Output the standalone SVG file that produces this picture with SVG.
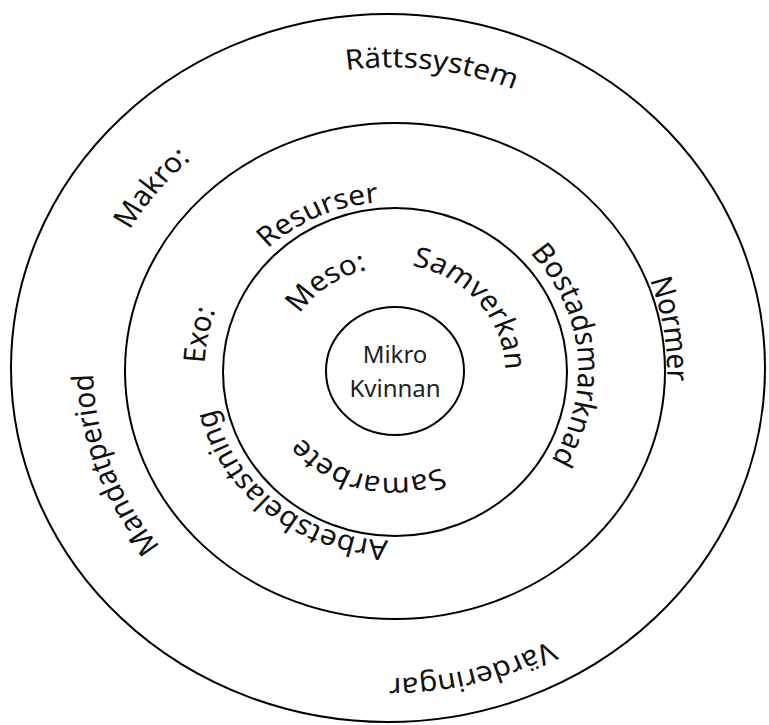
<svg xmlns="http://www.w3.org/2000/svg" width="769" height="725" viewBox="0 0 769 725">
<style>
.ring{fill:none;stroke:#000;stroke-width:2}
.lbl{font-family:"Noto Sans","Open Sans",sans-serif;font-size:28px;fill:#111}
.ctr{font-family:"Noto Sans","Open Sans",sans-serif;font-size:24px;fill:#222;text-anchor:middle}
</style>
<defs>
<path id="pRatt" d="M -303.7 -37.3 A 306 306 0 0 1 303.7 37.3"/>
<path id="pMakro" d="M -180.6 223.0 A 287 287 0 0 1 180.6 -223.0"/>
<path id="pNormer" d="M -43.9 -276.5 A 281 281 0 0 1 43.9 276.5"/>
<path id="pMand" d="M 96.8 265.9 A 283 283 0 0 1 -96.8 -265.9"/>
<path id="pVard" d="M 302.7 -75.5 A 312 312 0 0 1 -302.7 75.5"/>
<path id="pRes" d="M -153.5 68.3 A 168 168 0 0 1 153.5 -68.3"/>
<path id="pExo" d="M -34.0 174.7 A 178 178 0 0 1 34.0 -174.7"/>
<path id="pBost" d="M -16.7 -173.2 A 174 174 0 0 1 16.7 173.2"/>
<path id="pArb" d="M 132.9 107.6 A 171 171 0 0 1 -132.9 -107.6"/>
<path id="pMeso" d="M -86.0 60.2 A 105 105 0 0 1 86.0 -60.2"/>
<path id="pSamv" d="M -69.4 -82.7 A 108 108 0 0 1 69.4 82.7"/>
<path id="pSamb" d="M 106.2 24.5 A 109 109 0 0 1 -106.2 -24.5"/>
</defs>
<rect width="769" height="725" fill="#fff"/>
<g id="makro">
<ellipse class="ring" cx="388" cy="368" rx="377" ry="354"/>
</g>
<g id="exo">
<ellipse class="ring" cx="395" cy="371" rx="270" ry="248"/>
</g>
<g id="meso">
<ellipse class="ring" cx="395" cy="372" rx="172" ry="164"/>
</g>
<g id="mikro">
<ellipse class="ring" cx="395" cy="371" rx="69" ry="64"/>
<text class="ctr" x="395" y="363">Mikro</text>
<text class="ctr" x="395" y="397">Kvinnan</text>
</g>
<g id="labels" transform="translate(392,370) scale(1.07,1)">
<text class="lbl" text-anchor="middle"><textPath href="#pRatt" startOffset="50%">Rättssystem</textPath></text>
<text class="lbl" text-anchor="middle"><textPath href="#pMakro" startOffset="50%">Makro:</textPath></text>
<text class="lbl" text-anchor="middle"><textPath href="#pNormer" startOffset="50%">Normer</textPath></text>
<text class="lbl" text-anchor="middle"><textPath href="#pMand" startOffset="50%">Mandatperiod</textPath></text>
<text class="lbl" text-anchor="middle"><textPath href="#pVard" startOffset="50%">Värderingar</textPath></text>
<text class="lbl" text-anchor="middle"><textPath href="#pRes" startOffset="50%">Resurser</textPath></text>
<text class="lbl" text-anchor="middle"><textPath href="#pExo" startOffset="50%">Exo:</textPath></text>
<text class="lbl" text-anchor="middle"><textPath href="#pBost" startOffset="50%">Bostadsmarknad</textPath></text>
<text class="lbl" text-anchor="middle"><textPath href="#pArb" startOffset="50%">Arbetsbelastning</textPath></text>
<text class="lbl" text-anchor="middle"><textPath href="#pMeso" startOffset="50%">Meso:</textPath></text>
<text class="lbl" text-anchor="middle"><textPath href="#pSamv" startOffset="50%">Samverkan</textPath></text>
<text class="lbl" text-anchor="middle"><textPath href="#pSamb" startOffset="50%">Samarbete</textPath></text>
</g>
</svg>
